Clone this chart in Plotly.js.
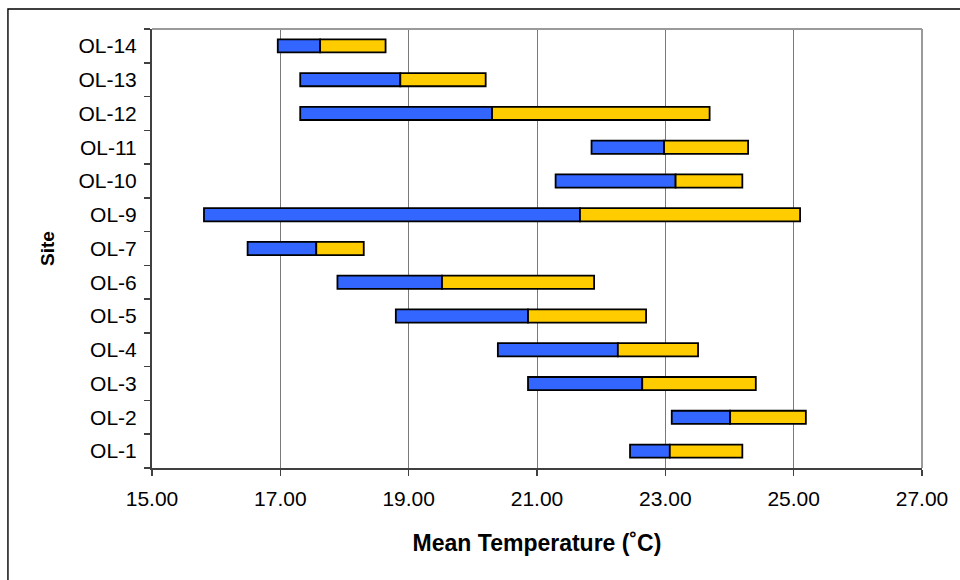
<!DOCTYPE html>
<html>
<head>
<meta charset="utf-8">
<script src="https://cdn.plot.ly/plotly-3.0.1.min.js"></script>
<style>
  html, body { margin: 0; padding: 0; background: #ffffff; }
  #chart { width: 960px; height: 580px; }
</style>
</head>
<body>
<div id="chart"></div>
<script>
// Sites, bottom to top
var sites = ['OL-1','OL-2','OL-3','OL-4','OL-5','OL-6','OL-7','OL-9','OL-10','OL-11','OL-12','OL-13','OL-14'];
// Start of blue segment (°C)
var startTemp = [22.45, 23.10, 20.86, 20.39, 18.80, 17.89, 16.49, 15.81, 21.29, 21.85, 17.31, 17.31, 16.96];
// Blue/yellow boundary (°C)
var midTemp   = [23.07, 24.01, 22.64, 22.26, 20.86, 19.52, 17.56, 21.67, 23.16, 22.98, 20.30, 18.87, 17.62];
// End of yellow segment (°C)
var endTemp   = [24.20, 25.19, 24.41, 23.51, 22.70, 21.89, 18.30, 25.10, 24.20, 24.29, 23.69, 20.20, 18.64];
var xTicks = [15, 17, 19, 21, 23, 25, 27];

var blueLen = startTemp.map(function (s, i) { return midTemp[i] - s; });
var yellowLen = midTemp.map(function (m, i) { return endTemp[i] - m; });

var FONT = 'Liberation Sans, Arial, sans-serif';

var traces = [
  {
    type: 'bar', orientation: 'h', y: sites, x: blueLen, base: startTemp,
    width: 0.39, marker: { color: '#3366FF', line: { color: '#000000', width: 1.8 } },
    showlegend: false, hoverinfo: 'skip'
  },
  {
    type: 'bar', orientation: 'h', y: sites, x: yellowLen, base: midTemp,
    width: 0.39, marker: { color: '#FFCC00', line: { color: '#000000', width: 1.8 } },
    showlegend: false, hoverinfo: 'skip'
  }
];

var L = 152, R = 38.3, T = 29.3, B = 112.3;
var PW = 960 - L - R, PH = 580 - T - B;
function px2x(p) { return (p - L) / PW; }
function py2y(p) { return (580 - B - p) / PH; }

var layout = {
  width: 960, height: 580,
  margin: { l: L, r: R, t: T, b: B, pad: 0 },
  paper_bgcolor: '#ffffff', plot_bgcolor: '#ffffff',
  barmode: 'overlay',
  font: { family: FONT, color: '#000000', size: 20 },
  xaxis: {
    range: [15, 27], tickvals: xTicks, tickformat: '.2f',
    showgrid: true, gridcolor: '#7a7a7a', gridwidth: 1,
    zeroline: false, showline: true, linecolor: '#404040', linewidth: 2,
    ticks: 'outside', ticklen: 6, tickwidth: 1.5, tickcolor: '#404040',
    ticklabelstandoff: 5,
    tickfont: { family: FONT, size: 21, color: '#000000' },
    title: { text: 'Mean Temperature (˚C)', standoff: 26,
             font: { family: FONT, size: 23, color: '#000000', weight: 'bold' } },
    automargin: false, fixedrange: true
  },
  yaxis: {
    type: 'category', categoryorder: 'array', categoryarray: sites,
    range: [-0.5, sites.length - 0.5],
    showgrid: false, zeroline: false, showline: true, linecolor: '#404040', linewidth: 2,
    ticks: 'outside', tickson: 'boundaries', ticklen: 6, tickwidth: 1.5, tickcolor: '#404040',
    ticklabelstandoff: 9,
    tickfont: { family: FONT, size: 21, color: '#000000' },
    title: { text: 'Site', standoff: 19,
             font: { family: FONT, size: 19, color: '#000000', weight: 'bold' } },
    automargin: false, fixedrange: true
  },
  shapes: [
    // plot-area frame (top and right edges in gray)
    { type: 'line', xref: 'paper', yref: 'paper', x0: 0, x1: 1, y0: 1, y1: 1,
      line: { color: '#9a9a9a', width: 2 }, layer: 'above' },
    { type: 'line', xref: 'paper', yref: 'paper', x0: 1, x1: 1, y0: 0, y1: 1,
      line: { color: '#9a9a9a', width: 2 }, layer: 'above' },
    // outer chart border
    { type: 'rect', xref: 'paper', yref: 'paper',
      x0: px2x(8), x1: px2x(975), y0: py2y(595), y1: py2y(9.3),
      line: { color: '#000000', width: 1.4 }, fillcolor: 'rgba(0,0,0,0)', layer: 'above' }
  ]
};

Plotly.newPlot('chart', traces, layout, { staticPlot: true, displayModeBar: false });
</script>
</body>
</html>
